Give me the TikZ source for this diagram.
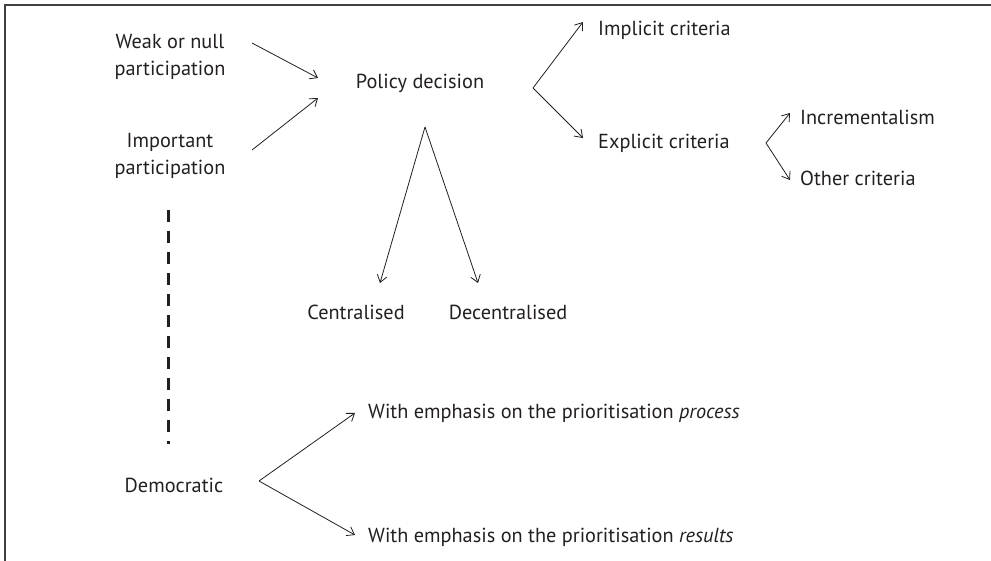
\documentclass[tikz,border=0pt]{standalone}
\usepackage{fontspec}
\setmainfont{PT Sans}
\usetikzlibrary{arrows.meta,positioning}
\definecolor{PolInk}{HTML}{231F20}
\definecolor{PolFrame}{HTML}{404040}

\begin{document}
\begin{tikzpicture}[x=1pt,y=-1pt,
    lbl/.style={font=\fontsize{20.3}{26.5}\selectfont,text=PolInk,align=center,inner sep=0pt},
    arr/.style={draw=PolInk,line width=0.8pt,-{Straight Barb[length=7pt,width=10pt,line width=0.8pt]}}]
    \useasboundingbox (0,0) rectangle (991,561);
    \draw[PolFrame,line width=2pt] (5,561) |- (991,5);

    % participation and decision
    \node[lbl] (weak) at (170,57) {Weak or null\\participation};
    \node[lbl] (important) at (170,156) {Important\\participation};
    \node[lbl] (policy) at (420,83) {Policy decision};
    \node[lbl,anchor=west] (implicit) at (598,30) {Implicit criteria};
    \node[lbl,anchor=west] (explicit) at (598,143) {Explicit criteria};
    \node[lbl,anchor=west] (increm) at (800,117) {Incrementalism};
    \node[lbl,anchor=west] (other) at (800,178) {Other criteria};
    \node[lbl] (central) at (356,312) {Centralised};
    \node[lbl] (decentral) at (508,312) {Decentralised};
    \node[lbl] (democ) at (174,485) {Democratic};
    \node[lbl,anchor=west] (process) at (368,413) {With emphasis on the prioritisation \textit{process}};
    \node[lbl,anchor=west] (results) at (368,537) {With emphasis on the prioritisation \textit{results}};

    \coordinate (critfork) at (533,88);
    \coordinate (explfork) at (766,143);
    \coordinate (levelfork) at (425,127);
    \coordinate (democfork) at (259,481);

    \draw[arr] ([shift={(82,-14)}]weak.center) -- ([shift={(-102,-5)}]policy.center);
    \draw[arr] ([shift={(82,-6)}]important.center) -- ([shift={(-102,15)}]policy.center);

    \draw[arr] (critfork) -- ([shift={(-15,-8)}]implicit.west);
    \draw[arr] (critfork) -- ([shift={(-15,-5)}]explicit.west);
    \draw[arr] (explfork) -- ([shift={(-10,-4)}]increm.west);
    \draw[arr] (explfork) -- ([shift={(-10,2)}]other.west);

    \draw[arr] (levelfork) -- ([shift={(24,-29)}]central.center);
    \draw[arr] (levelfork) -- ([shift={(-30,-29)}]decentral.center);

    \draw[arr] (democfork) -- ([shift={(-13,0)}]process.west);
    \draw[arr] (democfork) -- ([shift={(-13,-2)}]results.west);

    % participation scale
    \draw[PolInk,line width=3pt,dash pattern=on 12pt off 9pt]
      ([shift={(-2,54)}]important.center) -- ([shift={(-6,-41)}]democ.center);
\end{tikzpicture}
\end{document}
